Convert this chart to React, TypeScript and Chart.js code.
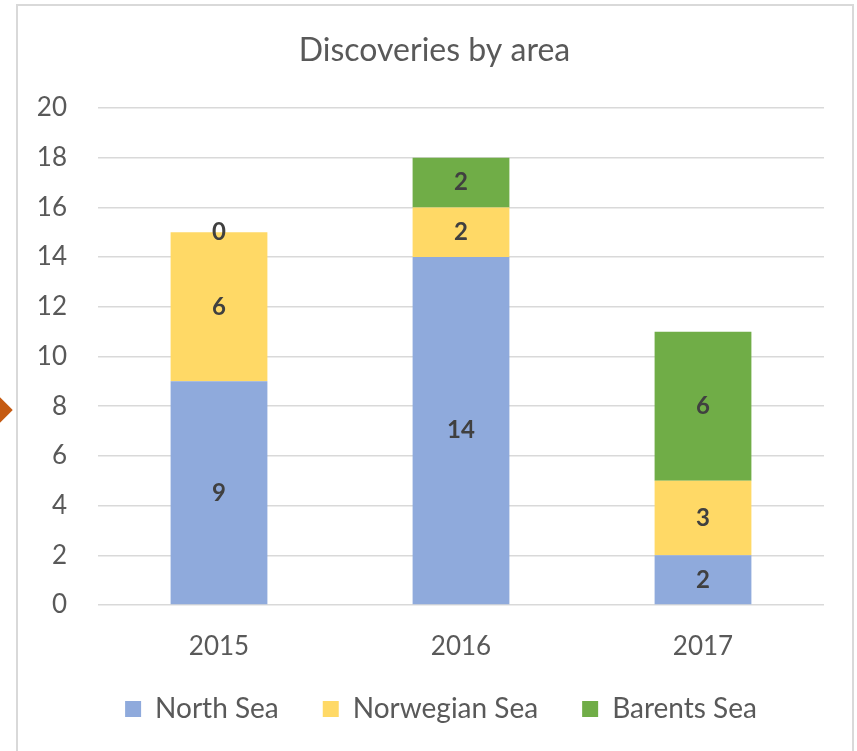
import React, { useEffect, useRef } from "react";
import { Chart, registerables } from "chart.js";

Chart.register(...registerables);

const categories = ["2015", "2016", "2017"];
const seriesNames = ["North Sea", "Norwegian Sea", "Barents Sea"];
const northSea = [9, 14, 2];
const norwegianSea = [6, 2, 3];
const barentsSea = [0, 2, 6];
const seriesColors = ["#8FAADC", "#FFD966", "#70AD47"];
const yTicks = [0, 2, 4, 6, 8, 10, 12, 14, 16, 18, 20];

const FONT = "Lato, 'Open Sans', sans-serif";
const TEXT = "#595959";

const dataLabels = {
  id: "dataLabels",
  afterDatasetsDraw(chart: any) {
    const ctx = chart.ctx;
    ctx.save();
    ctx.font = `bold 24px ${FONT}`;
    ctx.fillStyle = "#404040";
    ctx.textAlign = "center";
    ctx.textBaseline = "middle";
    chart.data.datasets.forEach((ds: any, di: number) => {
      const meta = chart.getDatasetMeta(di);
      meta.data.forEach((bar: any, i: number) => {
        const v = ds.data[i];
        const y = (bar.y + bar.base) / 2;
        ctx.fillText(String(v), bar.x, y);
      });
    });
    ctx.restore();
  },
};

// Re-centres the title and legend on the frame, and lifts the legend row.
const boxShift = {
  id: "boxShift",
  beforeDraw(chart: any) {
    const right = chart.chartArea.right;
    const lg = chart.legend;
    if (lg) {
      lg.left = 441 * 2 - right;
      lg.right = right;
      const h = lg.bottom - lg.top;
      lg.top = 651;
      lg.bottom = 651 + h;
    }
    const t = chart.titleBlock;
    if (t) {
      t.left = 434.5 * 2 - right;
      t.right = right;
    }
  },
};

export default function App() {
  const ref = useRef<HTMLCanvasElement | null>(null);
  useEffect(() => {
    if (!ref.current) return;
    const values = [northSea, norwegianSea, barentsSea];
    const chart = new Chart(ref.current, {
      type: "bar",
      data: {
        labels: categories,
        datasets: seriesNames.map((name, i) => ({
          label: name,
          data: values[i],
          backgroundColor: seriesColors[i],
          borderWidth: 0,
          barPercentage: 0.4,
          categoryPercentage: 1,
        })),
      },
      options: {
        animation: false,
        responsive: false,
        maintainAspectRatio: false,
        layout: { padding: { top: 5, left: 17, right: 33, bottom: 7 } },
        plugins: {
          title: {
            display: true,
            text: "Discoveries by area",
            color: TEXT,
            font: { family: FONT, size: 32, weight: "normal" },
            padding: { top: 26, bottom: 38.6 },
          },
          legend: {
            position: "bottom",
            labels: {
              color: TEXT,
              font: { family: FONT, size: 28 },
              boxWidth: 16,
              boxHeight: 16,
              padding: 44,
            },
          },
          tooltip: { enabled: false },
        },
        scales: {
          x: {
            stacked: true,
            grid: { display: false, drawTicks: false },
            border: { display: false },
            ticks: { color: TEXT, font: { family: FONT, size: 26 }, padding: 26 },
            afterFit(scale: any) {
              scale.height = 57;
            },
          },
          y: {
            stacked: true,
            min: 0,
            max: 20,
            afterBuildTicks(scale: any) {
              scale.ticks = yTicks.map((v) => ({ value: v }));
            },
            grid: { color: "#d9d9d9", lineWidth: 1.5, drawTicks: false },
            border: { display: false },
            ticks: { color: TEXT, font: { family: FONT, size: 26 }, padding: 31 },
            afterFit(scale: any) {
              scale.width = 81;
            },
          },
        },
      },
      plugins: [dataLabels, boxShift],
    });
    return () => chart.destroy();
  }, []);

  return (
    <div
      style={{
        position: "fixed",
        left: 0,
        top: 0,
        width: 857,
        height: 751,
        background: "#fff",
        overflow: "hidden",
      }}
    >
      <canvas ref={ref} width={857} height={751} style={{ position: "absolute", left: 0, top: 0 }} />
      <div
        style={{
          position: "absolute",
          left: 16,
          top: 4,
          width: 838,
          height: 800,
          boxSizing: "border-box",
          border: "2px solid #d9d9d9",
          pointerEvents: "none",
        }}
      />
      <div
        style={{
          position: "absolute",
          left: -9,
          top: 401,
          width: 18,
          height: 18,
          background: "#C55A11",
          transform: "rotate(45deg)",
        }}
      />
    </div>
  );
}
